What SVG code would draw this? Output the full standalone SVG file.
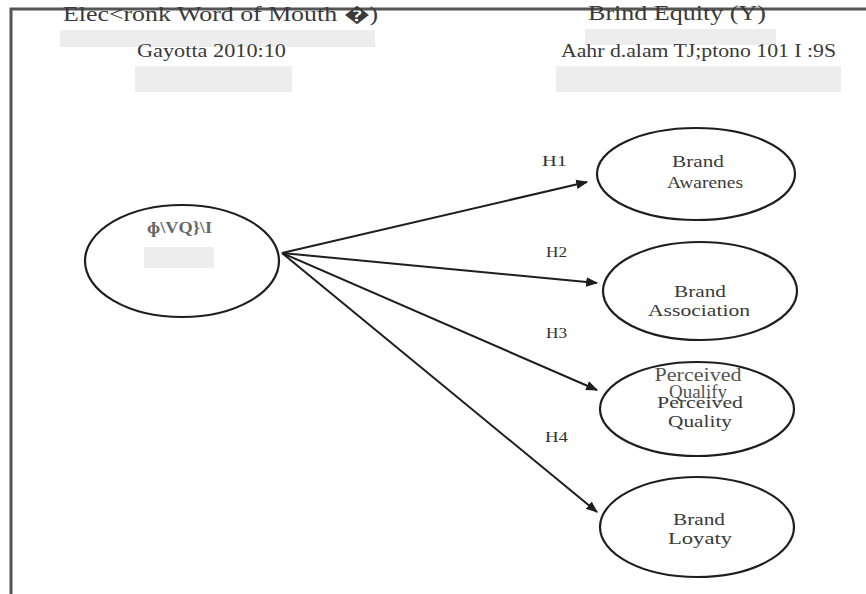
<svg xmlns="http://www.w3.org/2000/svg" width="866" height="594" viewBox="0 0 866 594">
<defs>
<style>
.node{fill:none;stroke:#1e1e1e;stroke-width:2.2}
.lbl{font-family:"Liberation Serif",serif;font-size:17px;fill:#3a3a3a;text-anchor:middle}
.h{font-family:"Liberation Serif",serif;font-size:15px;fill:#333}
.edge{stroke:#1e1e1e;stroke-width:2;fill:none;marker-end:url(#ah)}
.blur{fill:#ededed}
.hdr{font-family:"Liberation Serif",serif;fill:#3a3a3a}
</style>
<marker id="ah" viewBox="0 0 10 10" refX="9" refY="5" markerWidth="6" markerHeight="6" orient="auto" markerUnits="strokeWidth">
<path d="M0,1 L10,5 L0,9 Z" fill="#1e1e1e"/>
</marker>
</defs>
<rect width="866" height="594" fill="#fff"/>
<g id="frame">
<path d="M11,594 L11,9 L866,9" fill="none" stroke="#555" stroke-width="3"/>
</g>
<g id="header-left">
<rect class="blur" x="60" y="30" width="315" height="17"/>
<rect class="blur" x="135" y="66" width="157" height="26"/>
<text class="hdr" x="63" y="21" font-size="20" textLength="315" lengthAdjust="spacingAndGlyphs">Elec&lt;ronk  Word  of Mouth �)</text>
<text class="hdr" x="137" y="57" font-size="19" fill="#555" textLength="149" lengthAdjust="spacingAndGlyphs">Gayotta 2010:10</text>
</g>
<g id="header-right">
<rect class="blur" x="585" y="29" width="191" height="16"/>
<rect class="blur" x="556" y="66" width="285" height="26"/>
<text class="hdr" x="588" y="20" font-size="20" textLength="178" lengthAdjust="spacingAndGlyphs">Brind Equity (Y)</text>
<text class="hdr" x="561" y="57" font-size="19" fill="#555" textLength="275" lengthAdjust="spacingAndGlyphs">Aahr d.alam TJ;ptono 101 I :9S</text>
</g>
<g id="connectors">
<path class="edge" d="M282,253 L587,182"/>
<path class="edge" d="M282,253 L597,283"/>
<path class="edge" d="M282,253 L597,390"/>
<path class="edge" d="M282,253 L597,512"/>
<text class="h" x="542" y="166" textLength="25" lengthAdjust="spacingAndGlyphs">H1</text>
<text class="h" x="546" y="257" textLength="21" lengthAdjust="spacingAndGlyphs">H2</text>
<text class="h" x="546" y="338" textLength="21" lengthAdjust="spacingAndGlyphs">H3</text>
<text class="h" x="545" y="442" textLength="23" lengthAdjust="spacingAndGlyphs">H4</text>
</g>
<g id="ewom">
<ellipse class="node" cx="182" cy="261" rx="97" ry="56"/>
<rect x="130" y="217" width="109" height="88" fill="#fff"/>
<rect class="blur" x="144" y="247" width="70" height="21"/>
<text x="147" y="233" font-family="Liberation Serif,serif" font-size="16" font-weight="bold" fill="#666" textLength="65" lengthAdjust="spacingAndGlyphs">ɸ\VQ}\I</text>
</g>
<g id="awareness">
<ellipse class="node" cx="696" cy="174" rx="99" ry="46"/>
<text class="lbl" x="698" y="167" textLength="52" lengthAdjust="spacingAndGlyphs">Brand</text>
<text class="lbl" x="705" y="188" textLength="76" lengthAdjust="spacingAndGlyphs">Awarenes</text>
</g>
<g id="association">
<ellipse class="node" cx="700" cy="291" rx="97" ry="49"/>
<text class="lbl" x="700" y="297" textLength="52" lengthAdjust="spacingAndGlyphs">Brand</text>
<text class="lbl" x="699" y="316" textLength="102" lengthAdjust="spacingAndGlyphs">Association</text>
</g>
<g id="quality">
<ellipse class="node" cx="697" cy="409" rx="97" ry="47"/>
<text x="698" y="381" font-family="Liberation Serif,serif" font-size="19" fill="#555" text-anchor="middle" textLength="87" lengthAdjust="spacingAndGlyphs">Perceived</text>
<text x="698" y="398" font-family="Liberation Serif,serif" font-size="19" fill="#555" text-anchor="middle">Qualify</text>
<text class="lbl" x="700" y="408" textLength="86" lengthAdjust="spacingAndGlyphs">Perceived</text>
<text class="lbl" x="700" y="427" textLength="64" lengthAdjust="spacingAndGlyphs">Quality</text>
</g>
<g id="loyalty">
<ellipse class="node" cx="697" cy="527" rx="97" ry="50"/>
<text class="lbl" x="699" y="525" textLength="52" lengthAdjust="spacingAndGlyphs">Brand</text>
<text class="lbl" x="700" y="544" textLength="64" lengthAdjust="spacingAndGlyphs">Loyaty</text>
</g>
</svg>
